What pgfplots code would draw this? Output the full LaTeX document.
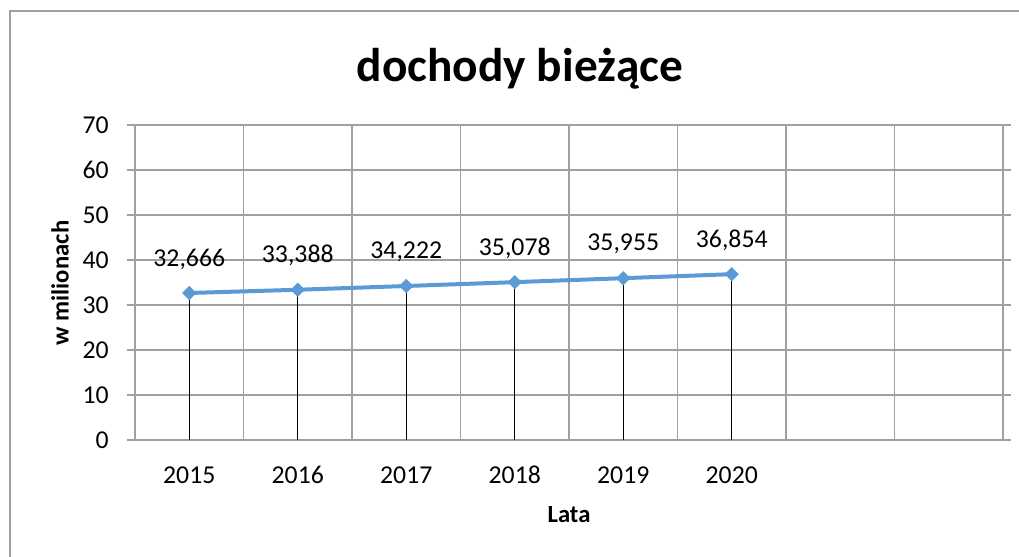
\documentclass[border=0pt]{standalone}
\usepackage{pgfplots}
\pgfplotsset{compat=1.18}
\usepackage{fontspec}
\setmainfont{Carlito}
\definecolor{linec}{RGB}{91,155,213}
\definecolor{gridc}{RGB}{160,160,160}
\pgfplotstableread{
x y lab
0 32.666 32,666
1 33.388 33,388
2 34.222 34,222
3 35.078 35,078
4 35.955 35,955
5 36.854 36,854
}\datatable
\begin{document}
\begin{tikzpicture}
\fontsize{19.3}{23}\selectfont
\clip (0,0) rectangle (764.25pt,417pt);
\useasboundingbox (0,0) rectangle (764.25pt,417pt);
\draw[gridc, line width=1pt] (7.5pt,-10pt) rectangle (790pt,408.75pt);
\begin{axis}[
  at={(101.25pt,87pt)}, anchor=south west,
  scale only axis, width=651pt, height=236.25pt,
  xmin=-0.5, xmax=7.5, ymin=0, ymax=70,
  xtick={0,1,2,3,4,5},
  xticklabels={2015,2016,2017,2018,2019,2020},
  minor xtick={-0.5,0.5,1.5,2.5,3.5,4.5,5.5,6.5,7.5},
  ytick={0,10,...,70},
  xminorgrids=true, ymajorgrids=true,
  grid style={gridc, line width=1.1pt},
  minor grid style={gridc, line width=1.1pt},
  axis line style={gridc, line width=1.1pt},
  x tick style={draw=none},
  minor x tick style={draw=none},
  y tick style={gridc, line width=1.1pt},
  tick align=outside, major tick length=6pt,
  /pgf/number format/assume math mode=true,
  ticklabel style={font=\fontsize{19.3}{23}\selectfont, text=black},
  xticklabel style={anchor=center, yshift=-20.25pt},
  yticklabel style={anchor=east, inner sep=0pt, xshift=-13.5pt},
  clip=false,
]
\addplot[black, line width=0.9pt, ycomb, no markers] table[x=x,y=y] {\datatable};
\addplot[linec, line width=3pt, mark=square*, mark size=3.5pt,
  mark options={fill=linec, draw=linec, line width=0.5pt, rotate=45},
  nodes near coords, point meta=explicit symbolic,
  every node near coord/.style={anchor=center, yshift=25.5pt, text=black, font=\fontsize{19.3}{23}\selectfont}]
  table[x=x,y=y,meta=lab] {\datatable};
\end{axis}
\node[font=\fontsize{35.5}{40}\selectfont\bfseries, anchor=base] at (390pt,356pt) {dochody bieżące};
\node[font=\fontsize{18.5}{22}\selectfont\bfseries] at (426.75pt,30.75pt) {Lata};
\node[font=\fontsize{18.5}{22}\selectfont\bfseries, rotate=90] at (45pt,204.75pt) {w milionach};
\end{tikzpicture}
\end{document}
